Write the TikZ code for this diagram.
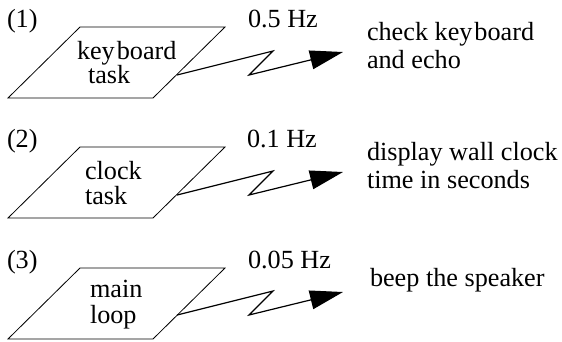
\documentclass[tikz,border=0pt]{standalone}
\usepackage{fontspec}
\setmainfont{Liberation Serif}
\usetikzlibrary{arrows.meta}
\tikzset{
  taskbox/.style={draw=black, line width=0.8pt, line join=miter},
  bolt/.style={draw=black, line width=1.2pt, line join=miter,
    -{Triangle[length=33pt, width=19pt]}},
  txt/.style={anchor=base west, inner sep=0pt, outer sep=0pt,
    font=\fontsize{26.2}{28}\selectfont}
}
\begin{document}
\begin{tikzpicture}[x=1pt, y=-1pt]
\useasboundingbox (0,0) rectangle (562,341);

% (1) keyboard task
\begin{scope}
  \coordinate (b1a) at (80,27);
  \coordinate (b1b) at (225,27);
  \coordinate (b1c) at (153,98);
  \coordinate (b1d) at (8,98);
  \draw[taskbox] (b1a) -- (b1b) -- (b1c) -- (b1d) -- cycle;
  \node[txt] (n1) at (7,27) {(1)};
  \node[txt] (t1a) at (77,59) {key\kern2pt board};
  \node[txt] (t1b) at (88,83) {task};
  \node[txt] (f1) at (248,27) {0.5 Hz};
  \coordinate (s1) at (177,75);
  \coordinate (z1a) at (273,51);
  \coordinate (z1b) at (249,75);
  \coordinate (e1) at (343,52);
  \draw[bolt] (s1) -- (z1a) -- (z1b) -- (e1);
  \node[txt] (d1a) at (367,40) {check key\kern2pt board};
  \node[txt] (d1b) at (367,68) {and echo};
\end{scope}

% (2) clock task
\begin{scope}
  \coordinate (b2a) at (80,147);
  \coordinate (b2b) at (225,147);
  \coordinate (b2c) at (153,218);
  \coordinate (b2d) at (8,218);
  \draw[taskbox] (b2a) -- (b2b) -- (b2c) -- (b2d) -- cycle;
  \node[txt] (n2) at (7,147) {(2)};
  \node[txt] (t2a) at (85,179) {clock};
  \node[txt] (t2b) at (85,204) {task};
  \node[txt] (f2) at (247,147) {0.1 Hz};
  \coordinate (s2) at (177,195);
  \coordinate (z2a) at (273,171);
  \coordinate (z2b) at (249,195);
  \coordinate (e2) at (343,172);
  \draw[bolt] (s2) -- (z2a) -- (z2b) -- (e2);
  \node[txt] (d2a) at (367,160) {display wall clock};
  \node[txt] (d2b) at (367,188) {time in seconds};
\end{scope}

% (3) main loop
\begin{scope}
  \coordinate (b3a) at (80,268);
  \coordinate (b3b) at (225,268);
  \coordinate (b3c) at (153,339);
  \coordinate (b3d) at (8,339);
  \draw[taskbox] (b3a) -- (b3b) -- (b3c) -- (b3d) -- cycle;
  \node[txt] (n3) at (7,268) {(3)};
  \node[txt] (t3a) at (90,297) {main};
  \node[txt] (t3b) at (90,323) {loop};
  \node[txt] (f3) at (248,268) {0.05 Hz};
  \coordinate (s3) at (177,315);
  \coordinate (z3a) at (273,291);
  \coordinate (z3b) at (249,315);
  \coordinate (e3) at (343,292);
  \draw[bolt] (s3) -- (z3a) -- (z3b) -- (e3);
  \node[txt] (d3a) at (370,286) {beep the speaker};
\end{scope}
\end{tikzpicture}
\end{document}
